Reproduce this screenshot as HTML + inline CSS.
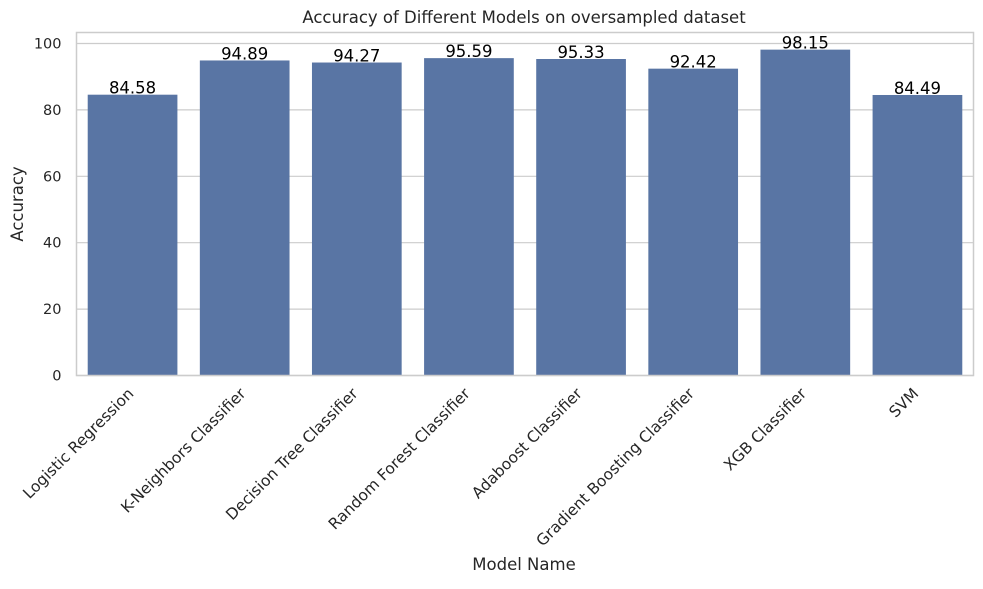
<!DOCTYPE html>
<html><head><meta charset="utf-8"><style>
body{margin:0;background:#fff;}
svg{font-family:"DejaVu Sans","Liberation Sans",sans-serif;}
</style></head><body>
<svg id="chart" width="983" height="584" viewBox="0 0 983 584">
<text x="524" y="23" font-size="16.5" text-anchor="middle" fill="#262626">Accuracy of Different Models on oversampled dataset</text>
<g id="grid"></g><g id="bars"></g><g id="labels"></g><g id="ticks"></g>
<rect x="76.5" y="32.5" width="897" height="343" fill="none" stroke="#cccccc" stroke-width="1.5"/>
<text x="524" y="570" font-size="16.5" text-anchor="middle" fill="#262626">Model Name</text>
<text transform="translate(23,204) rotate(-90)" font-size="16.5" text-anchor="middle" fill="#262626">Accuracy</text>
</svg>
<script>
const categories=["Logistic Regression","K-Neighbors Classifier","Decision Tree Classifier","Random Forest Classifier","Adaboost Classifier","Gradient Boosting Classifier","XGB Classifier","SVM"];
const values=[84.58,94.89,94.27,95.59,95.33,92.42,98.15,84.49];
const yTicks=[0,20,40,60,80,100];
const NS="http://www.w3.org/2000/svg";
const L=76.5,R=973.5,Y0=375.5,PPU=3.32;
const slot=(R-L)/categories.length;
const y=v=>Y0-v*PPU;
const xc=i=>L+slot*(i+0.5);
function mk(t,a,p){const e=document.createElementNS(NS,t);for(const k in a)e.setAttribute(k,a[k]);p.appendChild(e);return e;}
const grid=document.getElementById('grid'),bars=document.getElementById('bars'),labels=document.getElementById('labels'),ticks=document.getElementById('ticks');
yTicks.forEach(t=>{
 const g=mk('line',{x1:L,x2:R,y1:y(t),y2:y(t),stroke:'#cccccc','stroke-width':1.2},grid);
 
 
 const tx=mk('text',{x:L-15,y:y(t)+5,'font-size':14.5,'text-anchor':'end',fill:'#262626'},ticks);
 tx.textContent=t;
 
 
});
values.forEach((v,i)=>{
 const bw=slot*0.8;
 const b=mk('rect',{x:xc(i)-bw/2,y:y(v),width:bw,height:Y0-y(v),fill:'#5975a4'},bars);
 
 
 const l=mk('text',{x:xc(i),y:y(v)-1,'font-size':16.5,'text-anchor':'middle',fill:'#000'},labels);
 l.textContent=v.toFixed(2);
 
 
 const c=mk('text',{transform:`translate(${xc(i)+2},${Y0+19}) rotate(-45)`,'font-size':15.5,'text-anchor':'end',fill:'#262626'},ticks);
 c.textContent=categories[i];
 
 
});
</script>
</body></html>
